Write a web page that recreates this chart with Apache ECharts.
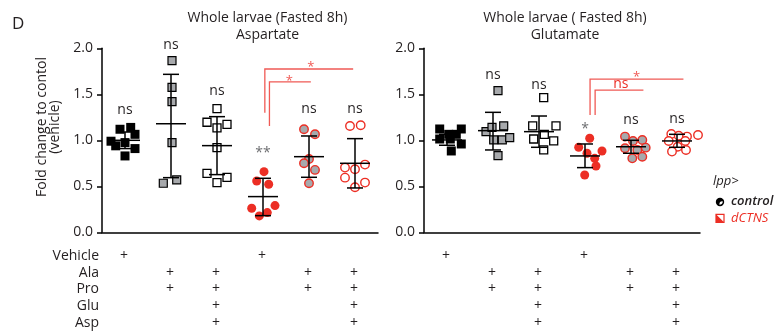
<!DOCTYPE html>
<html><head><meta charset="utf-8">
<script src="https://cdn.jsdelivr.net/npm/echarts@6/dist/echarts.min.js"></script>
<style>html,body{margin:0;padding:0;background:#fff}#c{width:780px;height:334px}</style>
</head><body><div id="c"></div>
<script>
// ---------- DATA ----------
const categories = ['Vehicle', 'Ala+Pro', 'Ala+Pro+Glu+Asp', 'Vehicle', 'Ala+Pro', 'Ala+Pro+Glu+Asp'];
const genotypes = ['control', 'control', 'control', 'dCTNS', 'dCTNS', 'dCTNS'];
const treatments = ['Vehicle', 'Ala', 'Pro', 'Glu', 'Asp'];
const treatmentPlus = [
  [1, 0, 0, 1, 0, 0],
  [0, 1, 1, 0, 1, 1],
  [0, 1, 1, 0, 1, 1],
  [0, 0, 1, 0, 0, 1],
  [0, 0, 1, 0, 0, 1]
];
const yTicks = [0, 0.5, 1.0, 1.5, 2.0];

const aspTitle = ['Whole larvae (Fasted 8h)', 'Aspartate'];
const aspValues = [
  [1.12, 1.14, 1.065, 0.99, 0.94, 0.975, 0.91, 0.83],
  [1.866, 1.576, 1.42, 0.975, 0.533, 0.569],
  [1.344, 1.196, 1.134, 1.174, 0.92, 0.641, 0.598, 0.54],
  [0.659, 0.558, 0.522, 0.261, 0.29, 0.214, 0.178],
  [1.12, 1.065, 0.797, 0.75, 0.678, 0.533],
  [1.156, 1.163, 0.703, 0.685, 0.736, 0.594, 0.54, 0.489]
];
const aspMean = [1.0, 1.18, 0.942, 0.388, 0.822, 0.75];
const aspLow = [0.91, 0.594, 0.627, 0.181, 0.598, 0.482];
const aspHigh = [1.09, 1.717, 1.257, 0.587, 1.047, 1.018];
const aspSig = ['ns', 'ns', 'ns', '**', 'ns', 'ns'];
const aspPairSig = ['*', '*'];

const gluTitle = ['Whole larvae ( Fasted 8h)', 'Glutamate'];
const gluValues = [
  [1.123, 1.123, 1.065, 1.065, 1.014, 1.014, 0.96, 0.884],
  [1.54, 1.094, 1.141, 1.156, 1.004, 1.004, 1.029, 0.833],
  [1.464, 1.156, 1.156, 1.065, 1.014, 0.993, 0.895],
  [1.022, 0.924, 0.884, 0.859, 0.804, 0.721, 0.623],
  [1.04, 0.992, 1.003, 0.913, 0.92, 0.894, 0.804, 0.822],
  [1.069, 1.05, 1.04, 1.058, 0.993, 0.993, 0.93, 0.877, 0.895]
];
const gluMean = [1.004, 1.105, 1.094, 0.83, 0.93, 0.993];
const gluLow = [0.946, 0.895, 0.924, 0.703, 0.859, 0.924];
const gluHigh = [1.065, 1.304, 1.264, 0.96, 1.0, 1.065];
const gluSig = ['', 'ns', 'ns', '*', 'ns', 'ns'];
const gluPairSig = ['*', 'ns'];

// ---------- LAYOUT / STYLE (not data) ----------
const aspJitter = [
  [-5, 5.7, 10, -14, -9.3, 0, 10, 0],
  [1, 1, 1, 1, -7.7, 5.7],
  [0, -10, 0, 10, 0, -10, 10, 0],
  [1, -6.3, 5.7, -11.3, 12, 4.3, -3.7],
  [-5, 6, 0, -5, 6, 0],
  [-5, 5.7, -10, 0, 10, -10, 10, 0]
];
const gluJitter = [
  [-7.3, 14.3, 1.7, 9.3, -7.3, 3.3, 14.3, 4.3],
  [5, -7, -1, 10.7, 0.7, 9.3, 16.7, 5],
  [4.7, -6.3, 17, 5.3, -5.3, 14.7, 4.7],
  [4.7, -6.3, 17, 2, 9.7, 11, -0.3],
  [-6, 2, 11.3, -6, 14.7, 6.3, 1.3, 11.3],
  [-5.7, 1.7, 10, 21, -8.3, 8.3, 0.7, -5, 9]
];
const aspSigY = [1.33, 2.04, 1.54, 0.86, 1.34, 1.34];
const gluSigY = [0, 1.71, 1.60, 1.12, 1.22, 1.23];
// brackets: x in category units (0 = first category centre)
const aspBrackets = [
  {x1: 3.04, yb: 1.30, yt: 1.775, x2: 4.96, tx: 4.04, ty: 1.80},
  {x1: 3.14, yb: 1.155, yt: 1.634, x2: 4.04, tx: 3.57, ty: 1.655}
];
const gluBrackets = [
  {x1: 3.11, yb: 1.275, yt: 1.666, x2: 5.14, tx: 4.12, ty: 1.70},
  {x1: 3.22, yb: 1.275, yt: 1.546, x2: 4.27, tx: 3.78, ty: 1.61}
];
const tableRowY = [255.7, 272.7, 289.3, 305.7, 323.5];

const FONT = '"Open Sans", "Noto Sans", sans-serif';
const RED = '#ec2e24';
const BRACKET_RED = '#f05a55';
const GRAY_FILL = '#a7a9ac';
const TXT = '#231f20';
const groupStyle = [
  {symbol: 'rect', size: 9, color: '#000', border: '#000', bw: 0},
  {symbol: 'rect', size: 8, color: GRAY_FILL, border: '#000', bw: 1.2},
  {symbol: 'rect', size: 8, color: '#fff', border: '#000', bw: 1.3},
  {symbol: 'circle', size: 9, color: RED, border: RED, bw: 0},
  {symbol: 'circle', size: 8.5, color: GRAY_FILL, border: RED, bw: 1.4},
  {symbol: 'circle', size: 8.5, color: '#fff', border: RED, bw: 1.4}
];

const grids = [
  {left: 102, top: 48.3, width: 276, height: 184},
  {left: 424, top: 48.3, width: 276, height: 184}
];

function xAxisCfg(gi) {
  return {
    type: 'category', gridIndex: gi, data: categories,
    axisLine: {lineStyle: {color: '#000', width: 1.5}},
    axisTick: {alignWithLabel: true, length: 5, lineStyle: {color: '#000', width: 1.5}},
    axisLabel: {show: false}, splitLine: {show: false}
  };
}
function yAxisCfg(gi) {
  return {
    type: 'value', gridIndex: gi, min: yTicks[0], max: yTicks[yTicks.length - 1], interval: yTicks[1] - yTicks[0],
    axisLine: {show: true, lineStyle: {color: '#000', width: 1.5}},
    axisTick: {show: true, length: 5, lineStyle: {color: '#000', width: 1.5}},
    axisLabel: {formatter: v => v.toFixed(1), fontSize: 14, color: TXT, fontFamily: FONT, margin: 9},
    splitLine: {show: false}
  };
}

function panelSeries(gi, values, jitter, mean, low, high, sig, sigY, brackets, pairSig) {
  const out = [];
  values.forEach((vals, g) => {
    const st = groupStyle[g];
    out.push({
      type: 'scatter', xAxisIndex: gi, yAxisIndex: gi, z: 2,
      symbol: st.symbol, symbolSize: st.size,
      itemStyle: {color: st.color, borderColor: st.border, borderWidth: st.bw, opacity: 1},
      data: vals.map((v, k) => ({value: [g, v], symbolOffset: [jitter[g][k], 0]})),
      silent: true, animation: false
    });
  });
  // mean +/- SD
  out.push({
    type: 'custom', xAxisIndex: gi, yAxisIndex: gi, z: 5, silent: true, animation: false,
    data: mean.map((m, g) => [g, m, low[g], high[g]]),
    renderItem: (params, api) => {
      const g = api.value(0);
      const pm = api.coord([g, api.value(1)]);
      const pl = api.coord([g, api.value(2)]);
      const ph = api.coord([g, api.value(3)]);
      const x = pm[0];
      const s = {stroke: '#000', lineWidth: 1.5, fill: null};
      return {type: 'group', children: [
        {type: 'line', shape: {x1: x - 15, y1: pm[1], x2: x + 15, y2: pm[1]}, style: s},
        {type: 'line', shape: {x1: x, y1: ph[1], x2: x, y2: pl[1]}, style: s},
        {type: 'line', shape: {x1: x - 8, y1: ph[1], x2: x + 8, y2: ph[1]}, style: s},
        {type: 'line', shape: {x1: x - 8, y1: pl[1], x2: x + 8, y2: pl[1]}, style: s}
      ]};
    }
  });
  // significance labels vs control
  out.push({
    type: 'custom', xAxisIndex: gi, yAxisIndex: gi, z: 6, silent: true, animation: false,
    data: sig.map((s, g) => [g, sigY[g]]),
    renderItem: (params, api) => {
      const g = api.value(0);
      const t = sig[g];
      if (!t) return null;
      const p = api.coord([g, api.value(1)]);
      const star = t.indexOf('*') >= 0;
      return {type: 'text', x: p[0], y: p[1], style: {
        text: t, align: 'center', verticalAlign: 'middle',
        fontSize: 14, fontFamily: FONT, fill: star ? '#6d6e71' : TXT
      }};
    }
  });
  // brackets
  out.push({
    type: 'custom', xAxisIndex: gi, yAxisIndex: gi, z: 6, silent: true, animation: false,
    data: brackets.map((b, k) => [k, b.yt]),
    renderItem: (params, api) => {
      const b = brackets[params.dataIndex];
      const x0 = api.coord([0, 0])[0];
      const band = api.size([1, 0])[0];
      const X = c => x0 + c * band;
      const Y = v => api.coord([0, v])[1];
      const t = pairSig[params.dataIndex];
      const star = t === '*';
      return {type: 'group', children: [
        {type: 'polyline', shape: {points: [[X(b.x1), Y(b.yb)], [X(b.x1), Y(b.yt)], [X(b.x2), Y(b.yt)]]},
          style: {stroke: BRACKET_RED, lineWidth: 1.3, fill: null}},
        {type: 'text', x: X(b.tx), y: Y(b.ty) + (star ? 1 : 0), style: {
          text: t, align: 'center', verticalAlign: 'middle', fontSize: star ? 13 : 14,
          fontFamily: FONT, fill: star ? BRACKET_RED : RED}}
      ]};
    }
  });
  // treatment table (+ marks)
  const tbl = [];
  treatmentPlus.forEach((row, r) => row.forEach((p, g) => { if (p) tbl.push([g, r]); }));
  out.push({
    type: 'custom', xAxisIndex: gi, yAxisIndex: gi, z: 6, silent: true, animation: false, clip: false,
    data: tbl,
    renderItem: (params, api) => {
      const g = api.value(0), r = api.value(1);
      const x = api.coord([g, 0])[0];
      return {type: 'text', x: x - 1, y: tableRowY[r], style: {
        text: '+', align: 'center', verticalAlign: 'middle', fontSize: 14, fontFamily: FONT, fill: TXT}};
    }
  });
  return out;
}

const graphics = [
  {type: 'text', x: 12, y: 24, style: {text: 'D', fontSize: 17, fontFamily: FONT, fill: TXT, verticalAlign: 'middle'}},
  {type: 'text', x: 267.5, y: 18.3, style: {text: aspTitle[0], align: 'center', verticalAlign: 'middle', fontSize: 14, fontFamily: FONT, fill: TXT}},
  {type: 'text', x: 267.5, y: 35, style: {text: aspTitle[1], align: 'center', verticalAlign: 'middle', fontSize: 14, fontFamily: FONT, fill: TXT}},
  {type: 'text', x: 565, y: 18.3, style: {text: gluTitle[0], align: 'center', verticalAlign: 'middle', fontSize: 14, fontFamily: FONT, fill: TXT}},
  {type: 'text', x: 565, y: 35, style: {text: gluTitle[1], align: 'center', verticalAlign: 'middle', fontSize: 14, fontFamily: FONT, fill: TXT}},
  {type: 'text', x: 41.7, y: 127, rotation: Math.PI / 2, style: {text: 'Fold change to contol', align: 'center', verticalAlign: 'middle', fontSize: 14, fontFamily: FONT, fill: TXT}},
  {type: 'text', x: 55.5, y: 127, rotation: Math.PI / 2, style: {text: '(vehicle)', align: 'center', verticalAlign: 'middle', fontSize: 14, fontFamily: FONT, fill: TXT}},
  // legend
  {type: 'text', x: 713, y: 181.7, style: {text: 'lpp>', verticalAlign: 'middle', fontSize: 13, fontStyle: 'italic', fontFamily: FONT, fill: TXT}},
  {type: 'circle', shape: {cx: 720, cy: 202, r: 4.2}, style: {fill: '#000'}},
  {type: 'sector', shape: {cx: 720, cy: 202, r0: 0, r: 2.6, startAngle: -0.35, endAngle: 1.9}, style: {fill: '#fff'}},
  {type: 'text', x: 731, y: 201.7, style: {text: genotypes[0], verticalAlign: 'middle', fontSize: 13, fontStyle: 'italic', fontWeight: 600, fontFamily: FONT, fill: TXT}},
  {type: 'rect', shape: {x: 716, y: 214.3, width: 8, height: 8}, style: {fill: '#fff', stroke: RED, lineWidth: 1.2}},
  {type: 'polygon', shape: {points: [[716, 214.3], [716, 222.3], [724, 222.3]]}, style: {fill: RED}},
  {type: 'text', x: 731, y: 218.3, style: {text: genotypes[3], verticalAlign: 'middle', fontSize: 13, fontStyle: 'italic', fontFamily: FONT, fill: RED}}
];
treatments.forEach((t, r) => graphics.push({type: 'text', x: 99, y: tableRowY[r], style: {
  text: t, align: 'right', verticalAlign: 'middle', fontSize: 14, fontFamily: FONT, fill: TXT}}));

const chart = echarts.init(document.getElementById('c'), null, {renderer: 'canvas'});
chart.setOption({
  animation: false,
  backgroundColor: '#fff',
  grid: grids,
  xAxis: [xAxisCfg(0), xAxisCfg(1)],
  yAxis: [yAxisCfg(0), yAxisCfg(1)],
  series: [
    ...panelSeries(0, aspValues, aspJitter, aspMean, aspLow, aspHigh, aspSig, aspSigY, aspBrackets, aspPairSig),
    ...panelSeries(1, gluValues, gluJitter, gluMean, gluLow, gluHigh, gluSig, gluSigY, gluBrackets, gluPairSig)
  ],
  graphic: graphics
});
</script>
</body></html>
